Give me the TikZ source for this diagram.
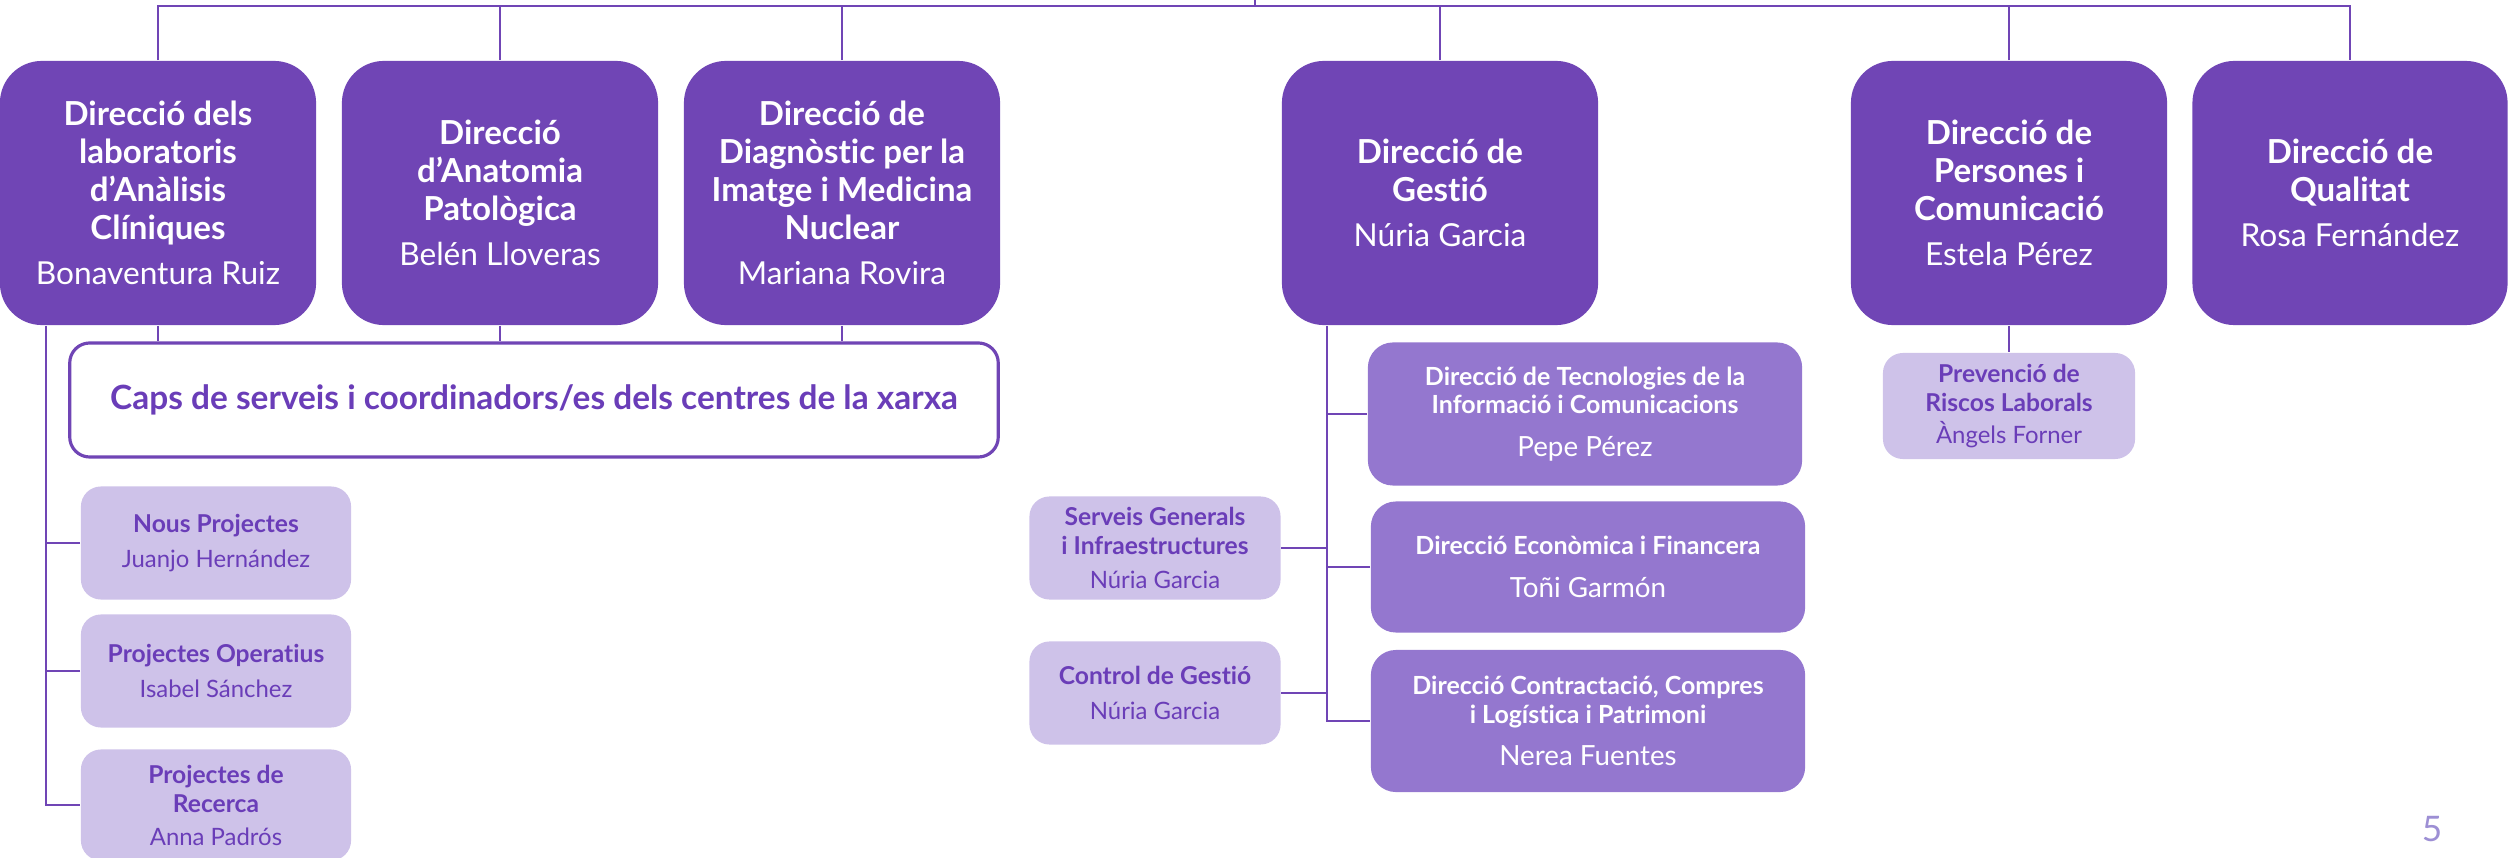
\documentclass[tikz,border=0pt]{standalone}
\usepackage{fontspec}
\setmainfont{Lato}[Ligatures=NoCommon]
\definecolor{dark}{HTML}{7045B5}
\definecolor{medium}{HTML}{9477CF}
\definecolor{light}{HTML}{CEC2E9}
\definecolor{ptext}{HTML}{6A3DB8}
\definecolor{pagecol}{HTML}{9D8FD4}
\newcommand{\tnm}[1]{{\fontsize{9}{10.8}\selectfont #1}}
\newcommand{\mnm}[1]{{\fontsize{7.9}{8}\selectfont #1}}
\newcommand{\lnm}[1]{{\fontsize{6.8}{8.3}\selectfont #1}}
\begin{document}
\begin{tikzpicture}[x=0.01cm,y=-0.01cm,
  topbox/.style={rounded corners=0.42cm, fill=dark, text=white, align=center, inner sep=0pt,
    minimum width=3.16cm, minimum height=2.64cm, font=\fontsize{9.4}{10.8}\selectfont},
  capsbox/.style={rounded corners=0.2cm, draw=dark, line width=0.9pt, fill=white, text=ptext,
    minimum width=9.28cm, minimum height=1.14cm, inner sep=0pt, font=\fontsize{9.5}{10}\selectfont\bfseries},
  midbox/.style={rounded corners=0.25cm, fill=medium, text=white, align=center, inner sep=0pt,
    minimum width=4.34cm, font=\fontsize{7.1}{8.1}\selectfont},
  lightbox/.style={rounded corners=0.2cm, fill=light, text=ptext, align=center, inner sep=0pt,
    font=\fontsize{7.0}{8.3}\selectfont},
  conn/.style={draw=dark, line width=0.8pt}]
\useasboundingbox (0,0) rectangle (2509,858);

% top level boxes
\node[topbox] (b1) at (158,193) {\textbf{Direcció dels}\\\textbf{laboratoris}\\\textbf{d’Anàlisis}\\\textbf{Clíniques}\\[2pt]\tnm{Bonaventura Ruiz}};
\node[topbox] (b2) at (500,193) {\textbf{Direcció}\\\textbf{d’Anatomia}\\\textbf{Patològica}\\[2pt]\tnm{Belén Lloveras}};
\node[topbox] (b3) at (842,193) {\textbf{Direcció de}\\\textbf{Diagnòstic per la}\\\textbf{Imatge i Medicina}\\\textbf{Nuclear}\\[2pt]\tnm{Mariana Rovira}};
\node[topbox] (gest) at (1440,193) {\textbf{Direcció de}\\\textbf{Gestió}\\[2pt]\tnm{Núria Garcia}};
\node[topbox] (pers) at (2009,193) {\textbf{Direcció de}\\\textbf{Persones i}\\\textbf{Comunicació}\\[2pt]\tnm{Estela Pérez}};
\node[topbox, minimum width=3.15cm] (qual) at (2350,193) {\textbf{Direcció de}\\\textbf{Qualitat}\\[2pt]\tnm{Rosa Fernández}};

% caps box
\node[capsbox] (caps) at (534,400) {Caps de serveis i coordinadors/es dels centres de la xarxa};

% left column
\node[lightbox, minimum width=2.7cm, minimum height=1.13cm] (nous) at (216,543) {\textbf{Nous Projectes}\\[1.5pt]\lnm{Juanjo Hernández}};
\node[lightbox, minimum width=2.7cm, minimum height=1.13cm] (oper) at (216,671) {\textbf{Projectes Operatius}\\[1.5pt]\lnm{Isabel Sánchez}};
\node[lightbox, minimum width=2.7cm, minimum height=1.11cm] (rec) at (216,805) {\textbf{Projectes de}\\\textbf{Recerca}\\[1pt]\lnm{Anna Padrós}};

% gestio group
\node[midbox, minimum height=1.43cm] (tec) at (1585,414) {\textbf{Direcció de Tecnologies de la}\\\textbf{Informació i Comunicacions}\\[4pt]\mnm{Pepe Pérez}};
\node[midbox, minimum height=1.31cm] (eco) at (1588,567) {\textbf{Direcció Econòmica i Financera}\\[4pt]\mnm{Toñi Garmón}};
\node[midbox, minimum height=1.42cm] (con) at (1588,721) {\textbf{Direcció Contractació, Compres}\\\textbf{i Logística i Patrimoni}\\[4pt]\mnm{Nerea Fuentes}};
\node[lightbox, minimum width=2.51cm, minimum height=1.03cm] (serv) at (1155,548) {\textbf{Serveis Generals}\\\textbf{i Infraestructures}\\[1.5pt]\lnm{Núria Garcia}};
\node[lightbox, minimum width=2.51cm, minimum height=1.03cm] (ctrl) at (1155,693) {\textbf{Control de Gestió}\\[1.5pt]\lnm{Núria Garcia}};

% persones sub
\node[lightbox, minimum width=2.52cm, minimum height=1.06cm] (prev) at (2009,406) {\textbf{Prevenció de}\\\textbf{Riscos Laborals}\\[1pt]\lnm{Àngels Forner}};

% page number
\node[text=pagecol, font=\fontsize{10}{11}\selectfont, inner sep=0pt] (pg) at (2432,829) {5};

% connectors
\coordinate (root) at (1255,0);
\coordinate (bar) at (1255,6);
\draw[conn] (b1.north) |- (bar) -| (qual.north);
\draw[conn] (root) -- (bar);
\foreach \n in {b2,b3,gest,pers} \draw[conn] (\n.north) -- (\n.north |- bar);
\foreach \n in {b1,b2,b3} \draw[conn] (\n.south) -- (\n.south |- caps.north);

\coordinate (ls) at (46,0);
\draw[conn] (ls |- b1.south) |- (rec.west);
\draw[conn] (nous.west) -- (nous.west -| ls);
\draw[conn] (oper.west) -- (oper.west -| ls);

\coordinate (gs) at (1327,0);
\draw[conn] (gs |- gest.south) |- (con.west);
\draw[conn] (tec.west) -- (tec.west -| gs);
\draw[conn] (eco.west) -- (eco.west -| gs);
\draw[conn] (serv.east) -- (serv.east -| gs);
\draw[conn] (ctrl.east) -- (ctrl.east -| gs);

\draw[conn] (pers.south) -- (prev.north);
\end{tikzpicture}
\end{document}
